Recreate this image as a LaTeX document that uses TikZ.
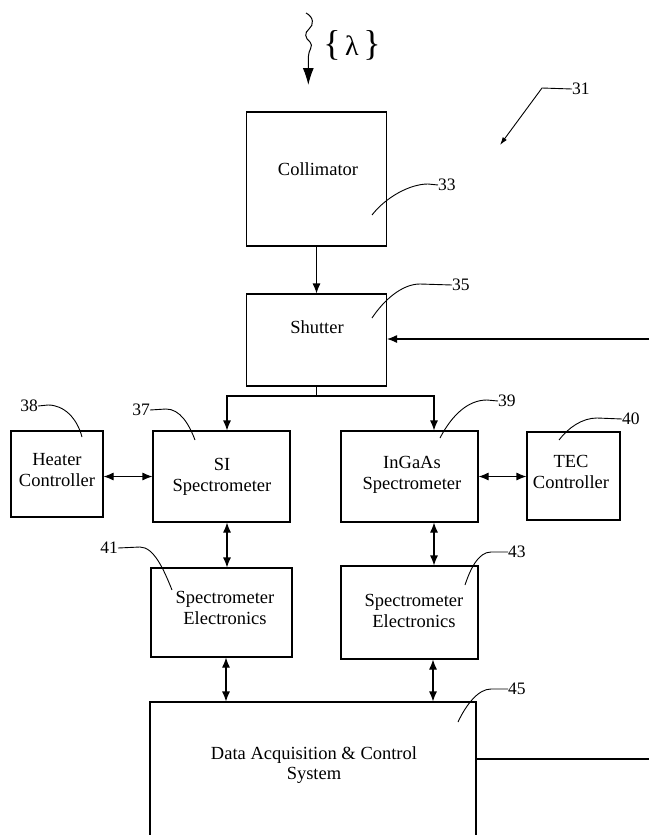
\documentclass[tikz,border=0pt]{standalone}
\usepackage{fontspec}
\setmainfont{Liberation Serif}
\usetikzlibrary{arrows.meta}
\begin{document}
\begin{tikzpicture}[x=1pt,y=-1pt,
 box/.style={draw,line width=1.1pt,inner sep=0pt},
 txt/.style={align=center,inner sep=0pt,font=\fontsize{18.5}{20.5}\selectfont},
 lab/.style={inner sep=0pt,font=\fontsize{17.5}{20}\selectfont},
 conn/.style={line width=1.1pt},
 arr/.style={conn,-{Latex[length=10pt,width=8pt]}},
 darr/.style={conn,{Latex[length=10pt,width=8pt]}-{Latex[length=10pt,width=8pt]}},
 lead/.style={line width=0.9pt}]
\useasboundingbox (0,0) rectangle (649,835);

% boxes
\node[box,minimum width=140pt,minimum height=134pt] (col) at (316.5,179) {};
\node[box,minimum width=140pt,minimum height=92pt] (shu) at (316.5,340) {};
\node[box,minimum width=137pt,minimum height=91pt] (si) at (221.5,476.5) {};
\node[box,minimum width=92pt,minimum height=86pt] (heat) at (57,474) {};
\node[box,minimum width=137pt,minimum height=91pt] (ing) at (409.5,476.5) {};
\node[box,minimum width=93pt,minimum height=88pt] (tec) at (573.5,476) {};
\node[box,minimum width=141pt,minimum height=89pt] (se1) at (221.5,612.5) {};
\node[box,minimum width=137pt,minimum height=93pt] (se2) at (409.5,612.5) {};
\node[box,minimum width=326pt,minimum height=180pt] (daq) at (313,792) {};

% texts
\node[txt] (colT) at (318,169) {Collimator};
\node[txt] (shuT) at (317,327) {Shutter};
\node[txt] (siT) at (222,477) {SI\\Spectrometer};
\node[txt] (heatT) at (57,470) {Heater\\Controller};
\node[txt] (ingT) at (412,475) {InGaAs\\Spectrometer};
\node[txt] (tecT) at (571,472) {TEC\\Controller};
\node[txt] (se1T) at (225,608) {Spectrometer\\Electronics};
\node[txt] (se2T) at (414,611) {Spectrometer\\Electronics};
\node[txt] (daqT) at (314,765) {Data Acquisition \& Control\\System};

% incoming light
\coordinate (w0) at (306,13);
\coordinate (wtip) at (308.3,85);
\draw[conn,line width=1pt,-{Latex[length=17pt,width=11pt]}] (w0) .. controls (314,17) and (314,25) .. (309,29)
  .. controls (304,33) and (305,38) .. (310,42)
  .. controls (314,46) and (308.3,50) .. (308.3,57) -- (wtip);
\node[inner sep=0pt,font=\fontsize{28}{30}\selectfont] (lam) at (352,45) {{\fontsize{36}{38}\selectfont\{}\,λ\,{\fontsize{36}{38}\selectfont\}}};

% connectors
\draw[arr] (col) -- (shu);
\coordinate (split) at (316.5,396);
\draw[conn] (shu.south) -- (split);
\draw[arr] (split) -| ([xshift=5.5pt]si.north);
\draw[arr] (split) -| ([xshift=24.5pt]ing.north);
\draw[darr] (heat.east |- si) -- (si.west);
\draw[darr] (ing.east) -- (tec.west |- ing);
\draw[darr] ([xshift=5.5pt]si.south) -- ([xshift=5.5pt]se1.north);
\draw[darr] ([xshift=24.5pt]ing.south) -- ([xshift=24.5pt]se2.north);
\draw[darr] ([xshift=4.5pt]se1.south) -- ([xshift=4.5pt]se1.south |- daq.north);
\draw[darr] ([xshift=23.5pt]se2.south) -- ([xshift=23.5pt]se2.south |- daq.north);
\coordinate (shin) at (649,339);
\draw[arr] (shin) -- (shu.east |- shin);
\coordinate (daqout) at (649,759);
\draw[conn] (daq.east |- daqout) -- (daqout);

% reference labels
\node[lab,anchor=west] (l31) at (572,89) {31};
\coordinate (p31) at (500,145);
\draw[lead,-{Latex[length=8pt,width=5pt]}] (l31.west) -- (542,88) -- (p31);

\node[lab,anchor=west] (l33) at (438,185) {33};
\draw[lead] (l33.west) -- (428,184) .. controls (410,184) and (386,197) .. (372,215);
\node[lab,anchor=west] (l35) at (452,285) {35};
\draw[lead] (l35.west) -- (420,284) .. controls (402,284) and (384,300) .. (372,318);
\node[lab,anchor=east] (l37) at (150,410) {37};
\draw[lead] (l37.east) -- (166,409) .. controls (180,409) and (189,424) .. (195,440);
\node[lab,anchor=east] (l38) at (38,406) {38};
\draw[lead] (l38.east) -- (48,405) .. controls (64,405) and (77,418) .. (82,437);
\node[lab,anchor=west] (l39) at (498,401) {39};
\draw[lead] (l39.west) -- (487,400) .. controls (468,400) and (452,415) .. (440,438);
\node[lab,anchor=west] (l40) at (622,419) {40};
\draw[lead] (l40.west) -- (597,418) .. controls (582,418) and (568,428) .. (559,440);
\node[lab,anchor=east] (l41) at (118,548) {41};
\draw[lead] (l41.east) -- (140,547) .. controls (154,547) and (164,570) .. (172,590);
\node[lab,anchor=west] (l43) at (508,552) {43};
\draw[lead] (l43.west) -- (491,552) .. controls (478,552) and (470,570) .. (465,585);
\node[lab,anchor=west] (l45) at (508,689) {45};
\draw[lead] (l45.west) -- (491,689) .. controls (478,689) and (466,705) .. (458,722);
\end{tikzpicture}
\end{document}
